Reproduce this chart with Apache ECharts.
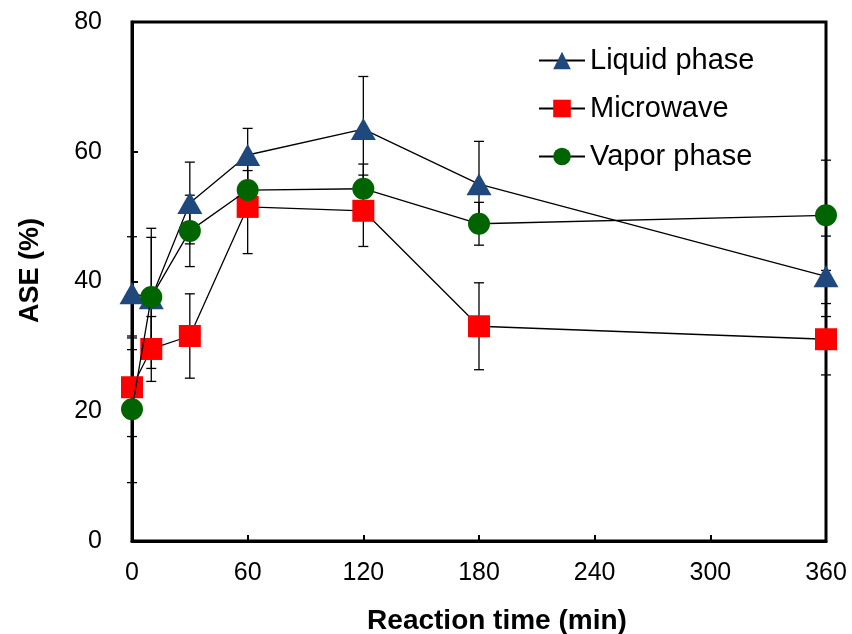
<!DOCTYPE html>
<html>
<head>
<meta charset="utf-8">
<script src="https://cdn.jsdelivr.net/npm/echarts@6/dist/echarts.min.js"></script>
<style>html,body{margin:0;padding:0;background:#fff}#c{width:852px;height:634px}</style>
</head>
<body>
<div id="c"></div>
<script>
var times = [0, 10, 30, 60, 120, 180, 360];
var liquid = [38.2, 37.4, 52.1, 59.5, 63.5, 55.0, 40.8];
var liquidErr = [8.7, 10.8, 6.3, 4.1, 8.1, 6.6, 6.2];
var microwave = [23.7, 29.6, 31.6, 51.5, 50.9, 33.1, 31.1];
var microwaveErr = [7.6, 5.0, 6.5, 7.2, 5.5, 6.7, 5.5];
var vapor = [20.3, 37.6, 47.8, 54.1, 54.3, 48.9, 50.2];
var vaporErr = [11.3, 9.2, 5.5, 3.0, 3.8, 3.3, 8.5];
var xTicks = [0, 60, 120, 180, 240, 300, 360];
var yTicks = [0, 20, 40, 60, 80];

function pts(vals){ return times.map(function(t,i){return [t, vals[i]];}); }
function errs(vals, e){ return times.map(function(t,i){return [t, vals[i]-e[i], vals[i]+e[i]];}); }

function errRender(params, api){
  var x = api.value(0);
  var lo = api.coord([x, api.value(1)]);
  var hi = api.coord([x, api.value(2)]);
  var w = 5;
  var st = {stroke:'#000', lineWidth:1.3};
  return {type:'group', children:[
    {type:'line', shape:{x1:lo[0],y1:lo[1],x2:hi[0],y2:hi[1]}, style:st},
    {type:'line', shape:{x1:lo[0]-w,y1:lo[1],x2:lo[0]+w,y2:lo[1]}, style:st},
    {type:'line', shape:{x1:hi[0]-w,y1:hi[1],x2:hi[0]+w,y2:hi[1]}, style:st}
  ]};
}

var font = 'Liberation Sans, Arial, sans-serif';
var chart = echarts.init(document.getElementById('c'), null, {renderer:'canvas'});
chart.setOption({
  animation:false,
  backgroundColor:'#fff',
  grid:{left:132, right:26, top:22, bottom:93, show:true, borderColor:'#000', borderWidth:3,
        containLabel:false, outerBoundsMode:'none'},
  legend:{
    orient:'vertical', left:533, top:41, itemWidth:46, itemHeight:22, itemGap:19,
    textStyle:{fontFamily:font, fontSize:29, lineHeight:28, color:'#000'},
    data:['Liquid phase','Microwave','Vapor phase']
  },
  xAxis:{
    type:'value', min:0, max:360, interval:60,
    name:'Reaction time (min)', nameLocation:'middle', nameGap:66,
    nameTextStyle:{fontFamily:font, fontSize:28, fontWeight:'bold', color:'#000', padding:[0,0,0,36]},
    axisLine:{lineStyle:{color:'#000', width:3}},
    axisTick:{inside:true, length:6, lineStyle:{color:'#000', width:2}},
    axisLabel:{margin:20, fontFamily:font, fontSize:25, color:'#000',
      formatter:function(v){return xTicks.indexOf(v)>=0? String(v):'';}},
    splitLine:{show:false}
  },
  yAxis:{
    type:'value', min:0, max:80, interval:20,
    name:'ASE (%)', nameLocation:'middle', nameGap:88, nameRotate:90,
    nameTextStyle:{fontFamily:font, fontSize:27, fontWeight:'bold', color:'#000', padding:[0,0,0,22]},
    axisLine:{lineStyle:{color:'#000', width:3}},
    axisTick:{inside:true, length:6, lineStyle:{color:'#000', width:2}},
    axisLabel:{margin:30, fontFamily:font, fontSize:25, color:'#000',
      formatter:function(v){return yTicks.indexOf(v)>=0? String(v):'';}},
    splitLine:{show:false}
  },
  series:[
    {type:'custom', name:'errL', renderItem:errRender, data:errs(liquid, liquidErr), z:2, silent:true, encode:{x:0,y:[1,2]}},
    {type:'custom', name:'errM', renderItem:errRender, data:errs(microwave, microwaveErr), z:2, silent:true, encode:{x:0,y:[1,2]}},
    {type:'custom', name:'errV', renderItem:errRender, data:errs(vapor, vaporErr), z:2, silent:true, encode:{x:0,y:[1,2]}},
    {type:'line', name:'Liquid phase', data:pts(liquid), symbol:'triangle', symbolSize:[25,22],
      itemStyle:{color:'#1F497D'}, lineStyle:{color:'#000', width:1.3}, z:3},
    {type:'line', name:'Microwave', data:pts(microwave), symbol:'rect', symbolSize:22,
      itemStyle:{color:'#FF0000'}, lineStyle:{color:'#000', width:1.3}, z:4},
    {type:'line', name:'Vapor phase', data:pts(vapor), symbol:'circle', symbolSize:22,
      itemStyle:{color:'#006400'}, lineStyle:{color:'#000', width:1.3}, z:5}
  ]
});
</script>
</body>
</html>
